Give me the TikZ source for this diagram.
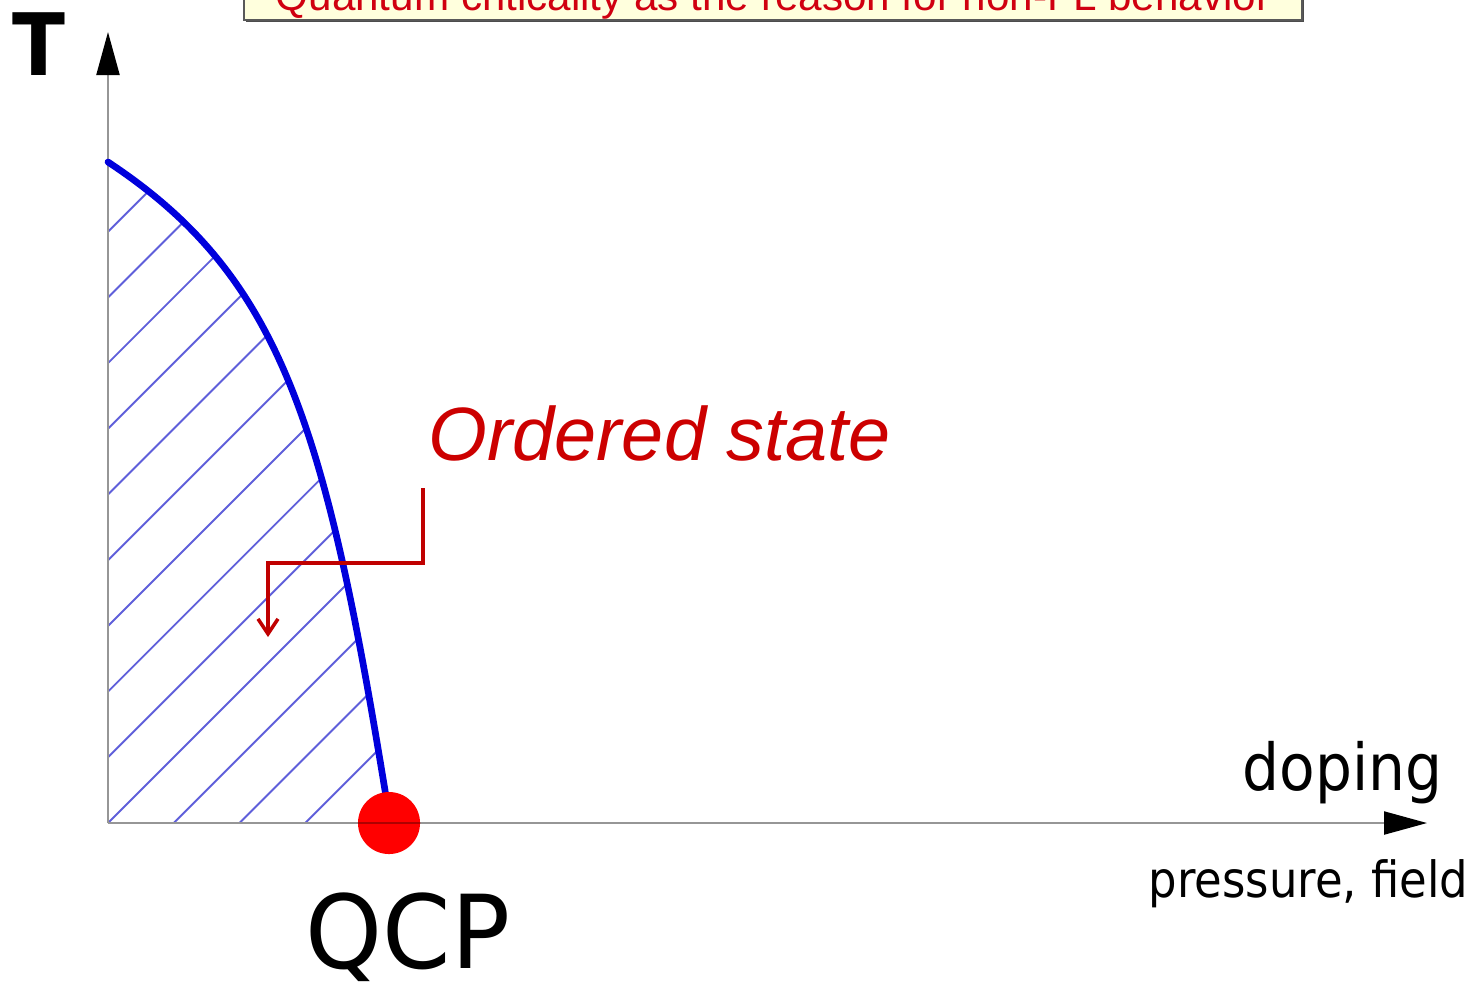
\documentclass[tikz,border=0pt]{standalone}
\usepackage{fontspec}
\setmainfont{Liberation Sans}
\newfontfamily\tah[FakeStretch=0.9]{DejaVu Sans}
\newfontfamily\tahw[FakeStretch=0.96]{DejaVu Sans}
\usetikzlibrary{arrows.meta,shadows}
\definecolor{titlered}{RGB}{208,0,16}
\definecolor{osred}{RGB}{204,0,0}
\definecolor{arrred}{RGB}{192,0,0}
\definecolor{curveblue}{RGB}{0,0,220}
\definecolor{hatchblue}{RGB}{95,95,218}
\definecolor{axisgray}{RGB}{150,150,150}
\definecolor{boxfill}{RGB}{255,255,221}
\definecolor{dotred}{RGB}{255,0,0}
\definecolor{dotline}{RGB}{175,0,0}
\begin{document}
\begin{tikzpicture}[x=0.01cm,y=-0.01cm,
  axis/.style={draw=axisgray, line width=0.6pt},
  axistip/.style={-{Triangle[length=0.43cm,width=0.23cm,color=black]}},
  tcline/.style={draw=curveblue, line width=1.9pt, line cap=round},
  hatchline/.style={draw=hatchblue, line width=0.55pt},
  ptr/.style={draw=arrred, line width=1pt, -{Straight Barb[length=0.15cm,width=0.2cm]}},
  lbl/.style={inner sep=0pt, anchor=base west},
  titlebox/.style={draw=black!65, line width=0.6pt, fill=boxfill,
    drop shadow={shadow xshift=0.02cm, shadow yshift=-0.02cm, fill=black!70, opacity=1},
    inner xsep=0pt, inner ysep=0.09cm, text depth=0pt, text height=0.32cm,
    minimum width=10.58cm, font=\fontsize{12pt}{14pt}\selectfont, text=titlered}]
\useasboundingbox (0,0) rectangle (1474,984);
\clip (0,0) rectangle (1474,984);

% title box (cut off at the top)
\node[titlebox, anchor=south] (title) at (773,21) {Quantum criticality as the reason for non-FL behavior};

% axes
\coordinate (O) at (108,823);
\coordinate (Ytip) at (108,32);
\coordinate (Xtip) at (1427,823);

% hatching under the curve
\begin{scope}
  \clip (108,823) -- (108,162) .. controls (282,277) and (326,424) .. (389,815) -- (389,823) -- cycle;
  \foreach \n in {-6,...,10} {
    \draw[hatchline] (108-700,823-65.7*\n+700) -- (108+700,823-65.7*\n-700);
  }
\end{scope}

\draw[axis, axistip] (O) -- (Ytip);
\draw[axis, axistip] (O) -- (Xtip);

% transition line
\draw[tcline] (108,162) .. controls (282,277) and (326,424) .. (389,815);

% QCP dot
\node[circle, fill=dotred, minimum size=0.62cm, inner sep=0pt] (qcp) at (389,823) {};
\begin{scope}
  \clip (389,823) circle (0.31cm);
  \draw[draw=dotline, line width=0.6pt] (O) -- (Xtip);
\end{scope}

% labels
\node[lbl, font=\tah\bfseries\fontsize{24.5pt}{28pt}\selectfont] (Tlab) at (12,75) {T};
\node[lbl, text depth=0pt, font=\tahw\fontsize{29pt}{34pt}\selectfont] (qcplab) at (305,968) {QCP};
\node[lbl, font=\tah\fontsize{18.4pt}{22pt}\selectfont] (doping) at (1242,790) {doping};
\node[lbl, font=\tah\fontsize{14.2pt}{17pt}\selectfont] (pf) at (1148,897) {pressure, field};
\node[lbl, font=\itshape\fontsize{21.5pt}{26pt}\selectfont, text=osred] (ordered) at (428,460) {Ordered state};

% bent pointer
\coordinate (arrstart) at (423,488);
\coordinate (arrend) at (268,637);
\draw[ptr] (arrstart) -- ++(0,75) -| (arrend);
\end{tikzpicture}
\end{document}
